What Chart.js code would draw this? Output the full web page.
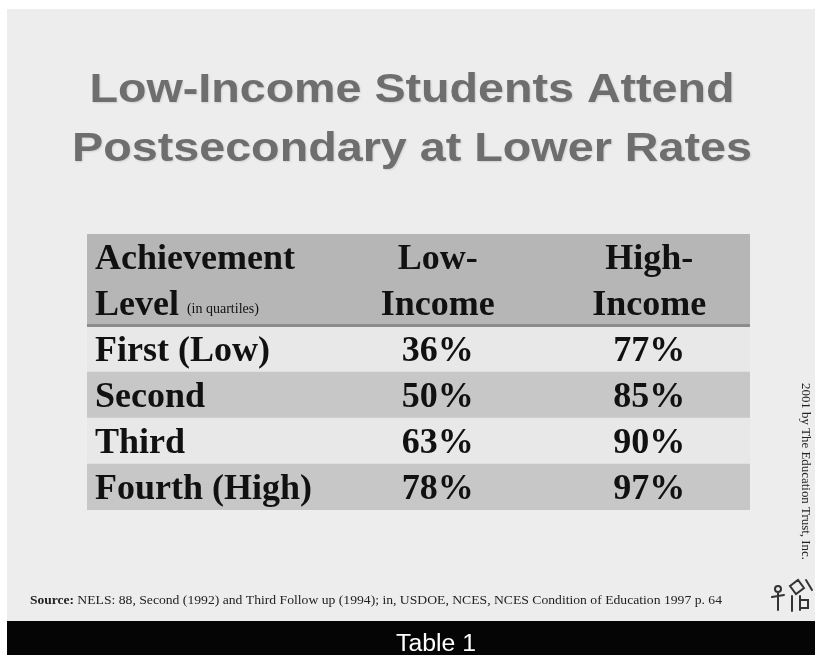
<!DOCTYPE html>
<html>
<head>
<meta charset="utf-8">
<script src="https://cdn.jsdelivr.net/npm/chart.js@4.4.1/dist/chart.umd.min.js"></script>
<style>
  html, body { margin: 0; padding: 0; background: #fff; }
  canvas { display: block; }
</style>
</head>
<body>
<canvas id="table1" width="815" height="655"></canvas>
<script>
// table data
const quartiles = ['First (Low)', 'Second', 'Third', 'Fourth (High)'];
const lowIncome = [36, 50, 63, 78];
const highIncome = [77, 85, 90, 97];
const headerTop = ['Achievement', 'Low-', 'High-'];
const headerBottom = ['Level', 'Income', 'Income'];

// header takes two rows of the category axis
const rows = ['head1', 'head2', ...quartiles];
const rowColors = ['#b6b6b6', '#b6b6b6', '#e8e8e8', '#c7c7c7', '#e8e8e8', '#c7c7c7'];
const colAnchor = [0.012, 0.529, 0.848]; // label column is left aligned, others centred

const serif = '"Liberation Serif", "Times New Roman", serif';
const sans = '"Liberation Sans", Arial, sans-serif';

// draws text stretched horizontally to a given width
function stretchText(ctx, txt, x, y, width, align) {
  const w = ctx.measureText(txt).width;
  ctx.save();
  ctx.translate(x, y);
  ctx.scale(width / w, 1);
  ctx.textAlign = align;
  ctx.fillText(txt, 0, 0);
  ctx.restore();
}

const slidePlugin = {
  id: 'slide',
  beforeDraw(chart) {
    const ctx = chart.ctx;
    ctx.save();
    ctx.fillStyle = '#ffffff';
    ctx.fillRect(0, 0, chart.width, chart.height);
    ctx.fillStyle = '#ededed';
    ctx.fillRect(7, 9, chart.width - 7, 612);
    ctx.fillStyle = '#050505';
    ctx.fillRect(7, 621, chart.width - 7, chart.height - 621);
    ctx.restore();
  },
  afterDatasetsDraw(chart) {
    const ctx = chart.ctx;
    const x = chart.scales.x, y = chart.scales.y;
    const area = chart.chartArea;
    ctx.save();

    // line under the header
    const lineY = (y.getPixelForValue(1) + y.getPixelForValue(2)) / 2;
    ctx.fillStyle = '#8c8c8c';
    ctx.fillRect(area.left, lineY - 2, area.right - area.left, 3);

    ctx.fillStyle = '#111';
    ctx.textBaseline = 'alphabetic';
    const big = 'bold 36px ' + serif;
    const cell = (txt, col, row) => {
      const px = x.getPixelForValue(colAnchor[col]);
      ctx.textAlign = col === 0 ? 'left' : 'center';
      ctx.fillText(txt, px, y.getPixelForValue(row) + 12);
    };

    ctx.font = big;
    headerTop.forEach((t, i) => cell(t, i, 0));
    headerBottom.forEach((t, i) => cell(t, i, 1));
    // small note after "Level"
    const lvlW = ctx.measureText(headerBottom[0]).width;
    ctx.font = '14px ' + serif;
    ctx.textAlign = 'left';
    ctx.fillText('(in quartiles)', x.getPixelForValue(colAnchor[0]) + lvlW + 8, y.getPixelForValue(1) + 10);

    ctx.font = big;
    quartiles.forEach((q, i) => {
      cell(q, 0, i + 2);
      cell(lowIncome[i] + '%', 1, i + 2);
      cell(highIncome[i] + '%', 2, i + 2);
    });

    // slide title
    ctx.font = 'bold 41px ' + sans;
    ctx.shadowColor = 'rgba(0,0,0,0.12)';
    ctx.shadowOffsetX = 1;
    ctx.shadowOffsetY = 1;
    ctx.shadowBlur = 2;
    ctx.fillStyle = '#6e6e6e';
    stretchText(ctx, 'Low-Income Students Attend', 412, 102, 645, 'center');
    stretchText(ctx, 'Postsecondary at Lower Rates', 412, 161, 680, 'center');
    ctx.shadowColor = 'transparent';

    // source line
    ctx.fillStyle = '#222';
    ctx.save();
    ctx.translate(30, 604);
    ctx.scale(1.08, 1);
    ctx.textAlign = 'left';
    ctx.font = 'bold 12.5px ' + serif;
    ctx.fillText('Source:', 0, 0);
    const sw = ctx.measureText('Source: ').width;
    ctx.font = '12.5px ' + serif;
    const rest = 'NELS: 88, Second (1992) and Third Follow up (1994); in, USDOE, NCES, NCES Condition of Education 1997 p. 64';
    const rw = ctx.measureText(rest).width;
    ctx.scale((692 / 1.08 - sw) / rw, 1);
    ctx.fillText(rest, sw * rw / (692 / 1.08 - sw), 0);
    ctx.restore();

    // copyright, vertical
    ctx.save();
    ctx.translate(802, 383);
    ctx.rotate(Math.PI / 2);
    ctx.font = '13px ' + serif;
    stretchText(ctx, '2001 by The Education Trust, Inc.', 0, 0, 177, 'left');
    ctx.restore();

    // small logo doodle
    ctx.strokeStyle = '#333';
    ctx.lineWidth = 2;
    ctx.lineCap = 'round';
    ctx.beginPath();
    ctx.arc(778, 589, 3, 0, Math.PI * 2);
    ctx.moveTo(778, 593); ctx.lineTo(778, 610);
    ctx.moveTo(772, 597); ctx.lineTo(784, 595);
    ctx.moveTo(790, 586); ctx.lineTo(798, 580); ctx.lineTo(804, 588); ctx.lineTo(796, 594); ctx.closePath();
    ctx.moveTo(792, 596); ctx.lineTo(792, 611);
    ctx.moveTo(800, 596); ctx.lineTo(800, 610);
    ctx.moveTo(800, 600); ctx.lineTo(808, 600); ctx.lineTo(808, 608); ctx.lineTo(800, 608);
    ctx.moveTo(806, 580); ctx.lineTo(812, 590);
    ctx.stroke();

    // footer caption
    ctx.fillStyle = '#ffffff';
    ctx.font = '23px ' + sans;
    stretchText(ctx, 'Table 1', 436, 651, 80, 'center');
    ctx.restore();
  }
};

new Chart(document.getElementById('table1'), {
  type: 'bar',
  data: {
    labels: rows,
    datasets: [{
      data: rows.map(() => [0, 1]),
      backgroundColor: rowColors,
      borderWidth: 0,
      barPercentage: 1,
      categoryPercentage: 1
    }]
  },
  options: {
    indexAxis: 'y',
    responsive: false,
    animation: false,
    layout: { padding: { left: 87, right: 65, top: 234, bottom: 145 } },
    scales: {
      x: { type: 'linear', min: 0, max: 1, display: false },
      y: { display: false }
    },
    plugins: { legend: { display: false }, tooltip: { enabled: false } }
  },
  plugins: [slidePlugin]
});
</script>
</body>
</html>
